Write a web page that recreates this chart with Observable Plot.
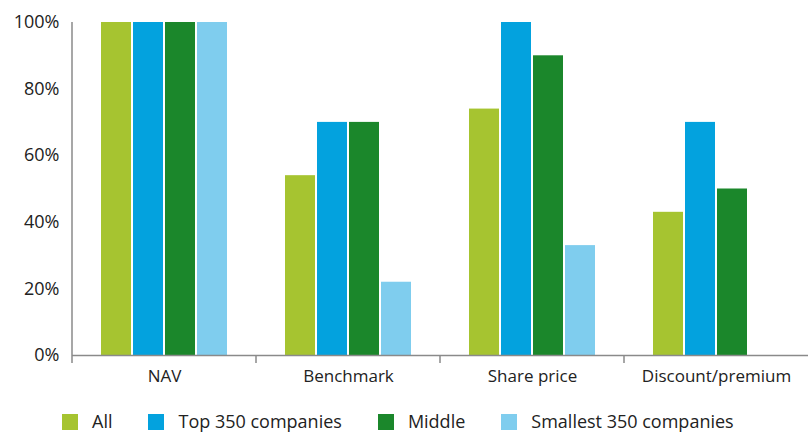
<!DOCTYPE html>
<html>
<head>
<meta charset="utf-8">
<script src="https://cdn.jsdelivr.net/npm/d3@7"></script>
<script src="https://cdn.jsdelivr.net/npm/@observablehq/plot@0.6"></script>
<style>
  html, body { margin: 0; padding: 0; background: #fff; }
  #chart { width: 809px; font-family: "Open Sans", sans-serif; color: #222; }
  #chart svg { display: block; }
  .lg-swatches { margin: 0; padding-left: 62px; margin-top: 16px; font-family: "Open Sans", sans-serif; font-size: 18px; line-height: 1.2; color: #222; min-height: 0; }
  .lg-swatch { margin-right: 36px; }
  .lg-swatch > svg { margin-right: 14px; }
</style>
</head>
<body>
<div id="chart"></div>
<script>
// Categories along the x axis
const categories = ["NAV", "Benchmark", "Share price", "Discount/premium"];
// Company groups (one bar each per category)
const series = ["All", "Top 350 companies", "Middle", "Smallest 350 companies"];
const seriesColors = ["#a6c430", "#03a2de", "#1b872b", "#7fcdee"];

// Values in percent, one entry per category
const allValues      = [100, 54, 74, 43];
const top350Values   = [100, 70, 100, 70];
const middleValues   = [100, 70, 90, 50];
const smallestValues = [100, 22, 33, null];

const yTicks = [0, 20, 40, 60, 80, 100];

const valuesBySeries = [allValues, top350Values, middleValues, smallestValues];
const rows = [];
series.forEach((s, i) => {
  categories.forEach((c, j) => {
    const v = valuesBySeries[i][j];
    if (v != null) rows.push({category: c, series: s, value: v});
  });
});

const axisColor = "#8a8a8a";

const plot = Plot.plot({
  width: 809,
  height: 395,
  marginLeft: 70,
  marginRight: 0,
  marginTop: 22,
  marginBottom: 40,
  style: {fontFamily: "Open Sans, sans-serif", fontSize: "17px", color: "#222", background: "#fff"},
  fx: {domain: categories, padding: 0, label: null, tickSize: 0, tickPadding: 14},
  x: {domain: series, axis: null, paddingInner: 0.07, paddingOuter: 0.9},
  y: {domain: [0, 100], ticks: yTicks, tickFormat: d => d + "%", tickSize: 0, tickPadding: 13, label: null},
  color: {domain: series, range: seriesColors},
  marks: [
    Plot.barY(rows, {fx: "category", x: "series", y: "value", fill: "series"}),
    Plot.ruleY([0], {stroke: axisColor, strokeWidth: 1.5})
  ]
});

// y tick labels are a touch larger than the category labels
d3.select(plot).selectAll("[aria-label='y-axis tick label']").attr("font-size", 18);

// Left axis line and the category boundary ticks, placed from the plot's own scales
const fx = plot.scale("fx");
const y = plot.scale("y");
const svg = d3.select(plot);
const y0 = y.apply(0);
const g = svg.append("g").attr("stroke", axisColor).attr("stroke-width", 1.5);
g.append("line")
  .attr("x1", fx.apply(categories[0])).attr("x2", fx.apply(categories[0]))
  .attr("y1", y.apply(100)).attr("y2", y0 + 8);
categories.slice(1).forEach(c => {
  g.append("line")
    .attr("x1", fx.apply(c)).attr("x2", fx.apply(c))
    .attr("y1", y0).attr("y2", y0 + 8);
});

const legend = plot.legend("color", {swatchSize: 16, className: "lg"});

const chart = document.getElementById("chart");
chart.append(plot);
chart.append(legend);
</script>
</body>
</html>
